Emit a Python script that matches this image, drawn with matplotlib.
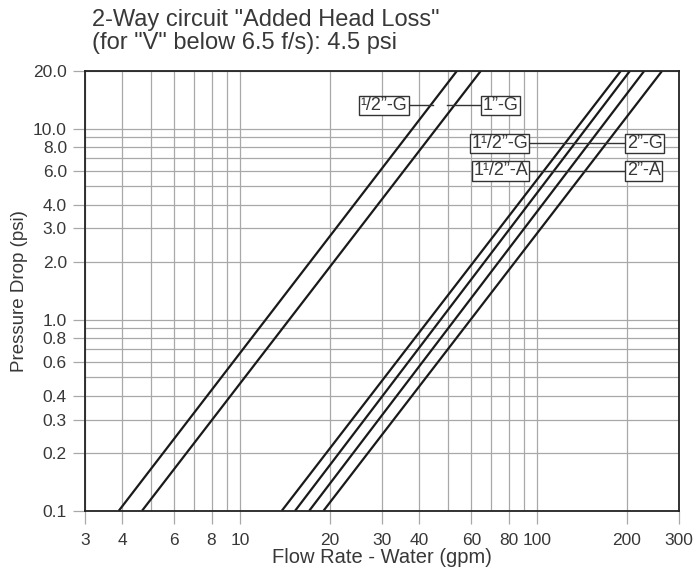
import matplotlib
matplotlib.use('Agg')
import matplotlib.pyplot as plt
from matplotlib.ticker import LogLocator, FixedLocator, FixedFormatter, NullFormatter

plt.rcParams['font.family'] = ['Liberation Sans', 'DejaVu Sans']

# flow (gpm) where each line meets 0.1 psi and 20 psi
names = ['1/2"-G', '1"-G', '1 1/2"-G', '1 1/2"-A', '2"-G', '2"-A']
flow_lo = [3.9, 4.67, 13.8, 15.3, 17.07, 19.07]
flow_hi = [53.6, 64.5, 191.0, 205.0, 229.0, 263.0]
dp_ends = [0.1, 20.0]

x_ticks = [3, 4, 6, 8, 10, 20, 30, 40, 60, 80, 100, 200, 300]
y_ticks = [0.1, 0.2, 0.3, 0.4, 0.6, 0.8, 1.0, 2.0, 3.0, 4.0, 6.0, 8.0, 10.0, 20.0]
y_labels = ['%.1f' % v for v in y_ticks]

txt = '#383838'
fig = plt.figure(figsize=(6.97, 5.68), dpi=100)
ax = fig.add_axes([85 / 697, 1 - 510.7 / 568, (679 - 85) / 697, (510.7 - 71) / 568])
ax.set_xscale('log')
ax.set_yscale('log')
ax.set_xlim(3, 300)
ax.set_ylim(0.1, 20)

for lo, hi in zip(flow_lo, flow_hi):
    ax.plot([lo, hi], dp_ends, color='#1a1a1a', lw=1.6, solid_capstyle='butt')

# grid on every log step, ticks only where labelled
ax.xaxis.set_minor_locator(LogLocator(base=10, subs=range(1, 10)))
ax.yaxis.set_minor_locator(LogLocator(base=10, subs=range(1, 10)))
ax.xaxis.set_minor_formatter(NullFormatter())
ax.yaxis.set_minor_formatter(NullFormatter())
ax.tick_params(which='minor', length=0)
ax.grid(True, which='both', color='#a8a8a8', lw=0.9)
ax.set_axisbelow(True)

ax.xaxis.set_major_locator(FixedLocator(x_ticks))
ax.xaxis.set_major_formatter(FixedFormatter([str(v) for v in x_ticks]))
ax.yaxis.set_major_locator(FixedLocator(y_ticks))
ax.yaxis.set_major_formatter(FixedFormatter(y_labels))
ax.tick_params(which='major', direction='out', length=9, width=0.9, color='#a8a8a8',
               labelsize=12.5, labelcolor=txt, pad=4)
ax.tick_params(axis='x', which='major', pad=7)

for s in ax.spines.values():
    s.set_color('#222222')
    s.set_linewidth(1.3)

ax.set_xlabel('Flow Rate - Water (gpm)', fontsize=14.5, color=txt, labelpad=0)
ax.set_ylabel('Pressure Drop (psi)', fontsize=13.5, color=txt, labelpad=4)

fig.text(91.5 / 697, 1 - 9 / 568, '2-Way circuit "Added Head Loss"\n(for "V" below 6.5 f/s): 4.5 psi',
         fontsize=17, color=txt, ha='left', va='top', linespacing=1.08)

box = dict(boxstyle='square,pad=0.08', fc='white', ec='#333333', lw=1.0)
lab_kw = dict(fontsize=13, color=txt, va='center', bbox=box, zorder=5)

# connectors
ax.plot([37, 44.5], [13.2, 13.2], color='#333333', lw=1.0, zorder=4)
ax.plot([49.5, 65], [13.2, 13.2], color='#333333', lw=1.0, zorder=4)
ax.plot([93, 200], [8.35, 8.35], color='#333333', lw=1.0, zorder=4)
ax.plot([93, 200], [6.0, 6.0], color='#333333', lw=1.0, zorder=4)

ax.text(36.5, 13.2, '¹/2”-G', ha='right', **lab_kw)
ax.text(65.5, 13.2, '1”-G', ha='left', **lab_kw)
ax.text(93, 8.35, '1¹/2”-G', ha='right', **lab_kw)
ax.text(93, 6.0, '1¹/2”-A', ha='right', **lab_kw)
ax.text(200, 8.35, '2”-G', ha='left', **lab_kw)
ax.text(200, 6.0, '2”-A', ha='left', **lab_kw)

fig.savefig('out.png', dpi=100)
